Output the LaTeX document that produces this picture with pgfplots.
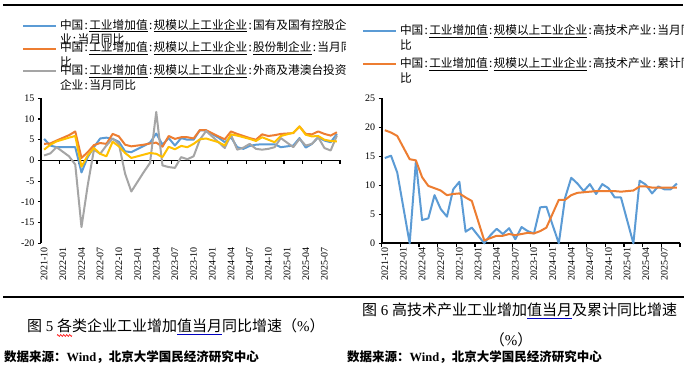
\documentclass[border=0pt]{standalone}
\usepackage{pgfplots}
\pgfplotsset{compat=1.18}
\usepackage{pgfplotstable}
\usetikzlibrary{decorations.pathmorphing}
\usepackage{fontspec}
\setmainfont{Liberation Serif}
\newfontfamily\cjk{Noto Sans CJK SC}
\definecolor{cb}{HTML}{5B9BD5}
\definecolor{co}{HTML}{ED7D31}
\definecolor{cg}{HTML}{A5A5A5}
\definecolor{cy}{HTML}{FFC000}
\newcommand{\cl}{\makebox[0.5em][c]{:}}
\newcommand{\ul}[1]{\underline{#1}}
\newcommand{\bul}[1]{{\color{blue!75!black}\underline{\color{black}#1}}}
\newcommand{\legA}{\smash{\parbox[t]{320pt}{\raggedright\cjk\fontsize{11.7}{14.5}\selectfont 中国\cl\ul{工业增加值}\cl\ul{规模以上工业企业}\cl 国有及国有控股企\newline 业\cl 当月同比}}}
\newcommand{\legB}{\smash{\parbox[t]{320pt}{\raggedright\cjk\fontsize{11.7}{14.5}\selectfont 中国\cl\ul{工业增加值}\cl\ul{规模以上工业企业}\cl\ul{股份制企业}\cl 当月同比\newline 比}}}
\newcommand{\legC}{\smash{\parbox[t]{320pt}{\raggedright\cjk\fontsize{11.7}{14.5}\selectfont 中国\cl\ul{工业增加值}\cl\ul{规模以上工业企业}\cl 外商及港澳台投资\newline 企业\cl 当月同比}}}
\newcommand{\legD}{\smash{\parbox[t]{320pt}{\raggedright\cjk\fontsize{11.7}{15}\selectfont 中国\cl\ul{工业增加值}\cl\ul{规模以上工业企业}\cl 高技术产业\cl 当月同比\newline 比}}}
\newcommand{\legE}{\smash{\parbox[t]{320pt}{\raggedright\cjk\fontsize{11.7}{15}\selectfont 中国\cl\ul{工业增加值}\cl\ul{规模以上工业企业}\cl 高技术产业\cl 累计同比\newline 比}}}

\pgfplotstableread{
i b o g y
0 5.2 4.0 1.2 2.6
1 3.6 4.1 1.7 3.8
2 3.2 4.8 3.2 4.6
3 nan nan nan nan
4 3.2 6.1 1.0 5.5
5 3.2 7.0 -1.0 5.9
6 -2.9 0.6 -16.1 -1.5
7 0.8 2.0 -6.0 1.2
8 3.2 3.7 2.6 3.0
9 5.3 4.2 1.6 1.6
10 5.5 4.0 3.6 1.0
11 5.2 6.4 5.3 4.5
12 4.5 5.8 4.0 3.4
13 2.2 3.8 -3.2 1.8
14 2.0 3.4 -7.5 0.6
15 nan nan nan nan
16 3.5 3.8 -2.8 1.4
17 4.3 4.1 -0.6 1.8
18 6.5 4.3 11.7 1.6
19 3.8 3.3 -1.2 0.8
20 5.4 5.9 -1.6 3.3
21 3.6 5.2 -1.8 2.7
22 5.4 5.6 0.8 3.5
23 5.0 5.6 0.3 3.2
24 5.0 5.3 1.0 4.0
25 7.3 7.3 5.0 5.1
26 7.2 7.3 7.1 5.3
27 nan nan nan nan
28 5.5 5.8 4.4 4.4
29 4.4 5.1 3.0 3.6
30 5.6 7.0 6.2 6.3
31 3.2 6.4 2.6 6.0
32 2.8 5.9 3.1 5.6
33 3.5 5.4 4.0 5.2
34 3.8 5.0 2.8 4.7
35 3.9 6.3 2.6 5.6
36 3.9 5.9 2.8 5.0
37 3.9 6.1 3.2 4.4
38 3.2 6.4 5.4 5.9
39 nan nan nan nan
40 3.6 6.6 3.2 6.7
41 5.4 8.2 5.2 8.2
42 3.1 6.4 3.6 6.2
43 4.0 6.3 4.0 5.8
44 5.6 7.0 5.6 5.9
45 4.8 6.4 3.0 5.0
46 4.4 6.0 2.4 4.7
47 6.4 6.8 6.0 4.6
}\leftdata

\pgfplotstableread{
i b o
0 14.7 19.5
1 15.1 19.1
2 12.2 18.5
3 nan nan
4 0 14.5
5 14.1 14.3
6 4.0 11.4
7 4.3 9.9
8 8.3 9.5
9 5.9 9.1
10 4.6 8.3
11 9.3 8.5
12 10.6 8.6
13 2.0 7.9
14 2.7 7.3
15 nan nan
16 0 0.5
17 1.4 0.9
18 2.5 1.3
19 1.6 1.3
20 2.6 1.6
21 0.7 1.4
22 2.8 1.6
23 2.1 1.8
24 1.7 1.7
25 6.2 2.1
26 6.3 2.7
27 nan nan
28 0 7.5
29 7.8 7.5
30 11.3 8.3
31 10.3 8.7
32 9.0 8.8
33 10.2 8.9
34 8.5 9.0
35 10.2 9.0
36 9.5 9.0
37 7.9 9.0
38 7.9 8.9
39 nan nan
40 0 9.1
41 10.8 9.8
42 10.1 9.8
43 8.6 9.6
44 9.8 9.6
45 9.3 9.6
46 9.3 9.6
47 10.3 9.6
}\rightdata

\pgfplotsset{
  mychart/.style={
    scale only axis, anchor=south west,
    xmin=-0.5, xmax=47.5,
    axis y line*=left, axis x line*=bottom,
    axis line style={-},
    x axis line style={draw=none},
    y axis line style={line width=1.6pt},
    xtick={0,3,...,45},
    xticklabels={2021-10,2022-01,2022-04,2022-07,2022-10,2023-01,2023-04,2023-07,2023-10,2024-01,2024-04,2024-07,2024-10,2025-01,2025-04,2025-07},
    major x tick style={draw=none},
    y tick style={line width=1.2pt, black},
    tick align=outside, major tick length=3pt,
    x tick label style={rotate=90, anchor=east, font=\fontsize{10}{10}\selectfont, inner sep=1pt},
    y tick label style={font=\fontsize{10}{10}\selectfont},
    /pgf/number format/assume math mode=true,
    clip=false,
    legend cell align=left,
    legend image code/.code={\draw[##1, line width=2pt] (0pt,4pt) -- (33pt,4pt); \path[draw=none, fill=none] (0pt,0pt) rectangle (33pt,8pt);},
    every axis plot/.append style={line width=2pt, line join=round},
  }
}

\begin{document}
\begin{tikzpicture}
\useasboundingbox (0pt,0pt) rectangle (691pt,374pt);
\fill[white] (0pt,0pt) rectangle (691pt,374pt);
\draw[line width=2.2pt] (3pt,369pt) -- (683pt,369pt);
\draw[line width=2.4pt] (3pt,76.7pt) -- (684pt,76.7pt);

\begin{scope}
\clip (0pt,0pt) rectangle (345pt,374pt);
\begin{axis}[mychart,
  at={(41pt,130.7pt)}, width=299pt, height=145pt,
  ymin=-20, ymax=15, ytick={-20,-15,...,15},
  legend style={at={(axis description cs:-0.0635,1.527)}, anchor=north west, draw=none, fill=none, inner sep=0pt, outer sep=0pt, row sep=14pt, column sep=3pt, nodes={inner sep=0pt, outer sep=0pt}},
]
\draw[line width=1.6pt] (axis cs:-0.5,0) -- (axis cs:47.5,0);
\pgfplotsinvokeforeach{-0.5,2.5,5.5,8.5,11.5,14.5,17.5,20.5,23.5,26.5,29.5,32.5,35.5,38.5,41.5,44.5,47.5}{\draw[line width=1.2pt] (axis cs:#1,0) -- ++(0pt,-4pt);}
\addplot[cb] table[x=i,y=b]{\leftdata};
\addlegendentry{\legA}
\addplot[co] table[x=i,y=o]{\leftdata};
\addlegendentry{\legB}
\addplot[cg] table[x=i,y=g]{\leftdata};
\addlegendentry{\legC}
\addplot[cy] table[x=i,y=y]{\leftdata};
\end{axis}
\end{scope}

\begin{scope}
\clip (345pt,0pt) rectangle (683pt,374pt);
\begin{axis}[mychart,
  at={(381.7pt,130.7pt)}, width=298.3pt, height=145pt,
  ymin=0, ymax=25, ytick={0,5,...,25},
  legend style={at={(axis description cs:-0.066,1.489)}, anchor=north west, draw=none, fill=none, inner sep=0pt, outer sep=0pt, row sep=24pt, column sep=3pt, nodes={inner sep=0pt, outer sep=0pt}},
]
\draw[line width=1.6pt] (axis cs:-0.5,0) -- (axis cs:47.5,0);
\pgfplotsinvokeforeach{-0.5,2.5,5.5,8.5,11.5,14.5,17.5,20.5,23.5,26.5,29.5,32.5,35.5,38.5,41.5,44.5,47.5}{\draw[line width=1.2pt] (axis cs:#1,0) -- ++(0pt,-4pt);}
\addplot[cb] table[x=i,y=b]{\rightdata};
\addlegendentry{\legD}
\addplot[co] table[x=i,y=o]{\rightdata};
\addlegendentry{\legE}
\end{axis}
\end{scope}

\node[anchor=west, inner sep=0pt] at (27pt,47pt) {\fontsize{15}{15}\selectfont{\cjk 图} 5 {\cjk 各类企业工业增加\bul{值当月}同比增速（}\%{\cjk ）}};
\draw[red, line width=0.6pt, decorate, decoration={zigzag, amplitude=0.9pt, segment length=3pt}] (57pt,38.5pt) -- (72pt,38.5pt);
\node[anchor=west, inner sep=0pt] at (362pt,63pt) {\fontsize{15}{15}\selectfont{\cjk 图} 6 {\cjk 高技术产业工业增加\bul{值当月}及累计同比增速}};
\node[anchor=center, inner sep=0pt] at (511pt,34pt) {\fontsize{15}{15}\selectfont{\cjk （}\%{\cjk ）}};
\node[anchor=west, inner sep=0pt] at (4pt,17pt) {\fontsize{12.5}{12.5}\selectfont\bfseries{\cjk 数据来源：}Wind{\cjk ，北京大学国民经济研究中心}};
\node[anchor=west, inner sep=0pt] at (347pt,17pt) {\fontsize{12.5}{12.5}\selectfont\bfseries{\cjk 数据来源：}Wind{\cjk ，北京大学国民经济研究中心}};
\end{tikzpicture}
\end{document}
